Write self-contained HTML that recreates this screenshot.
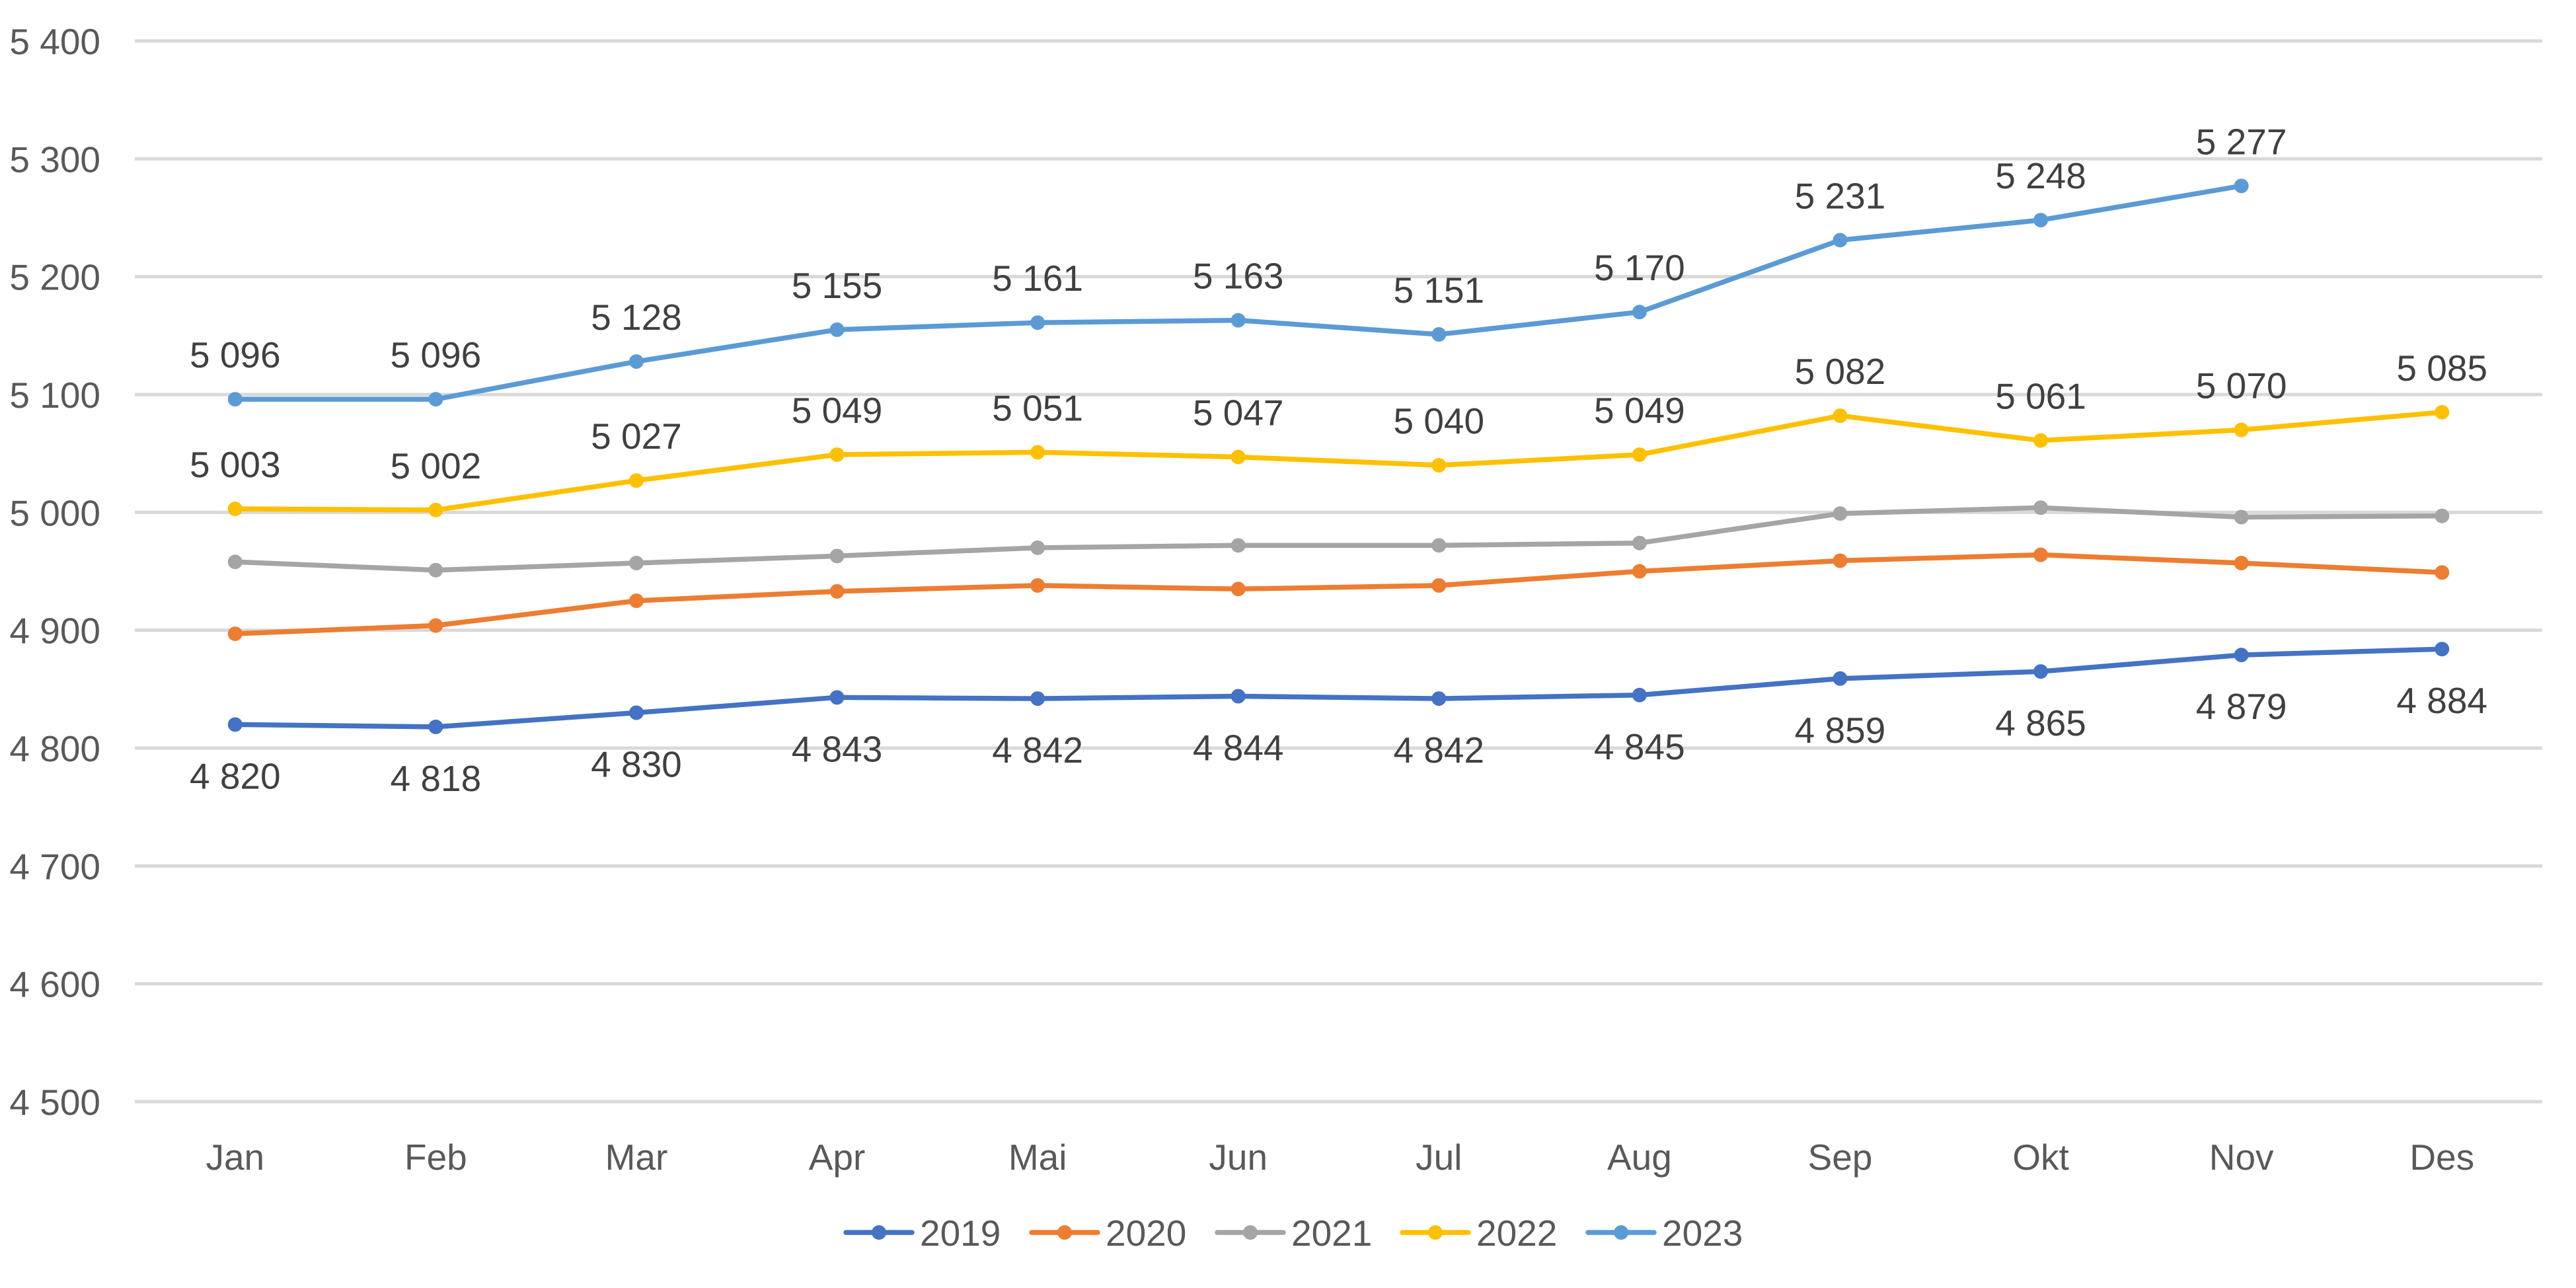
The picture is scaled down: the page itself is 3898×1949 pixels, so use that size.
<!DOCTYPE html>
<html><head><meta charset="utf-8"><style>
html,body{margin:0;padding:0;background:#fff;}
svg{display:block;font-family:"Liberation Sans",sans-serif;}
</style></head><body>
<svg id="c" width="3898" height="1949" xmlns="http://www.w3.org/2000/svg"></svg>
<script>
const svg=document.getElementById('c');
const L=204,R=3847,T=62,B=1667;
const y=v=>B-(v-4500)*(B-T)/900;
const x=i=>L+(R-L)/12*(i+0.5);
const FS=55;
let s='';
for(let v=4500;v<=5400;v+=100){
  const yy=y(v);
  s+=`<line x1="${L}" x2="${R}" y1="${yy}" y2="${yy}" stroke="#d9d9d9" stroke-width="5"/>`;
  s+=`<text x="152" y="${yy+20}" text-anchor="end" font-size="${FS}" fill="#595959">${String(v).replace(/(\d)(\d{3})$/,'$1 $2')}</text>`;
}
const m=['Jan','Feb','Mar','Apr','Mai','Jun','Jul','Aug','Sep','Okt','Nov','Des'];
m.forEach((t,i)=>{s+=`<text x="${x(i)}" y="1770" text-anchor="middle" font-size="${FS}" fill="#595959">${t}</text>`;});
const S=[
 ['2019','#4472C4',[4820,4818,4830,4843,4842,4844,4842,4845,4859,4865,4879,4884],'below'],
 ['2020','#ED7D31',[4897,4904,4925,4933,4938,4935,4938,4950,4959,4964,4957,4949],null],
 ['2021','#A5A5A5',[4958,4951,4957,4963,4970,4972,4972,4974,4999,5004,4996,4997],null],
 ['2022','#FFC000',[5003,5002,5027,5049,5051,5047,5040,5049,5082,5061,5070,5085],'above'],
 ['2023','#5B9BD5',[5096,5096,5128,5155,5161,5163,5151,5170,5231,5248,5277],'above'],
];
const fmt=v=>String(v).replace(/(\d)(\d{3})$/,'$1 $2');
S.forEach(([n,c,d,lab])=>{
  s+=`<polyline fill="none" stroke="${c}" stroke-width="7.5" stroke-linejoin="round" stroke-linecap="round" points="${d.map((v,i)=>x(i)+','+y(v)).join(' ')}"/>`;
  d.forEach((v,i)=>{s+=`<circle cx="${x(i)}" cy="${y(v)}" r="11" fill="${c}"/>`;});
});
S.forEach(([n,c,d,lab])=>{
  if(!lab)return;
  d.forEach((v,i)=>{
    const yy=lab==='above'?y(v)-48:y(v)+97;
    s+=`<text x="${x(i)}" y="${yy}" text-anchor="middle" font-size="${FS}" fill="#404040">${fmt(v)}</text>`;
  });
});
const lx=[1280,1561,1842,2122,2403];
S.forEach(([n,c],k)=>{
  const a=lx[k],ly=1865;
  s+=`<line x1="${a}" x2="${a+100}" y1="${ly}" y2="${ly}" stroke="${c}" stroke-width="7.5" stroke-linecap="round"/>`;
  s+=`<circle cx="${a+50}" cy="${ly}" r="11" fill="${c}"/>`;
  s+=`<text x="${a+112}" y="${ly+20}" font-size="${FS}" fill="#595959">${n}</text>`;
});
svg.innerHTML=s;
</script>
</body></html>
